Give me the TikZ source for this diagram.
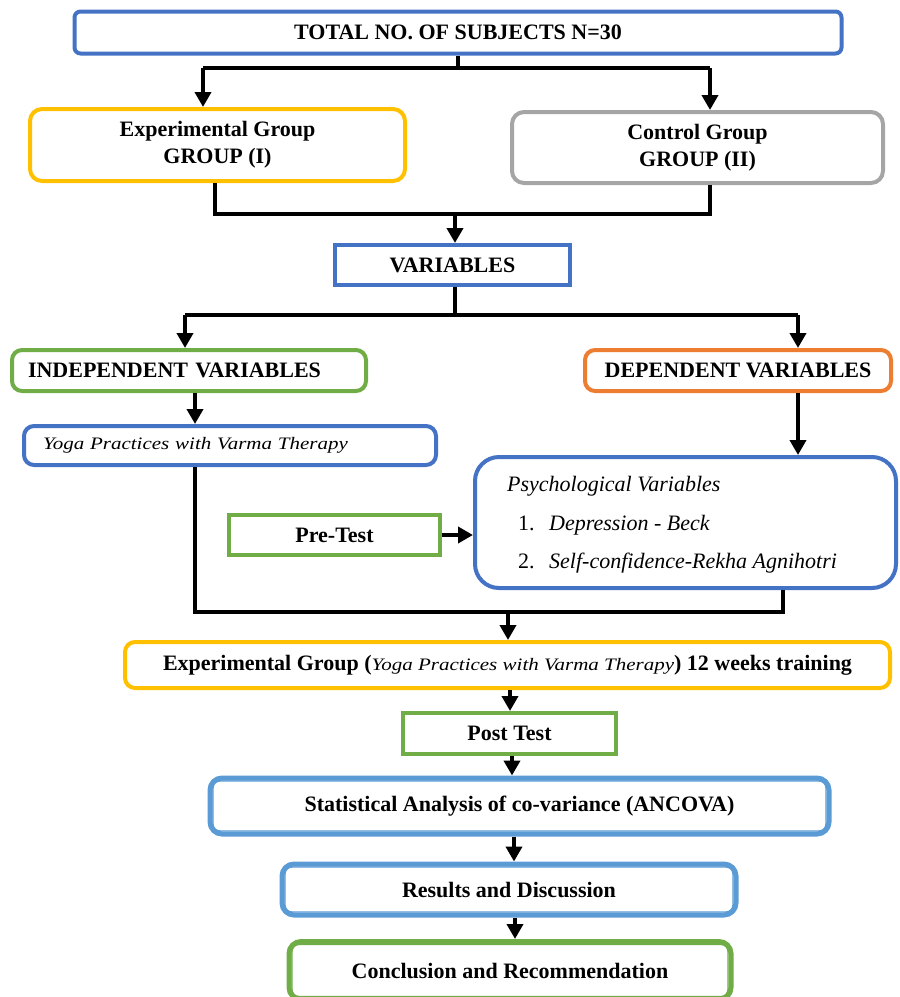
\documentclass[tikz,border=0pt]{standalone}
\usepackage{fontspec}
\setmainfont{Liberation Serif}
\newfontfamily\wideit{Liberation Serif}[FakeStretch=1.2]
\usetikzlibrary{arrows.meta}
\definecolor{cblue}{HTML}{4472C4}
\definecolor{cyellow}{HTML}{FFC000}
\definecolor{cgray}{HTML}{A5A5A5}
\definecolor{cgreen}{HTML}{70AD47}
\definecolor{corange}{HTML}{ED7D31}
\definecolor{clblue}{HTML}{5B9BD5}
\begin{document}
\begin{tikzpicture}[x=1pt,y=-1pt,
  bx/.style={draw,line width=4pt,fill=white,inner sep=0pt,align=center,
    font=\fontsize{22}{27}\selectfont\bfseries},
  rbx/.style={bx,rounded corners=10pt},
  dbx/.style={bx,line width=5pt,rounded corners=12pt},
  inbox/.style={line width=1.3pt,rounded corners=7pt},
  ln/.style={line width=4.5pt,black},
  arr/.style={line width=4.5pt,black,-{Triangle[length=15pt,width=16pt]}},
  ptxt/.style={anchor=base west,inner sep=0pt,font=\fontsize{22}{26}\selectfont\itshape},
  pnum/.style={anchor=base west,inner sep=0pt,font=\fontsize{22}{26}\selectfont}
]
\useasboundingbox (0,0) rectangle (900,997);

% boxes
\node[rbx,draw=cblue,rounded corners=6pt,minimum width=767pt,minimum height=42pt] (total) at (458,32.5) {TOTAL NO. OF SUBJECTS N=30};
\node[rbx,draw=cyellow,rounded corners=12pt,minimum width=375pt,minimum height=72pt] (exp) at (217.5,145) {Experimental Group\\GROUP (I)};
\node[rbx,draw=cgray,rounded corners=12pt,minimum width=371pt,minimum height=71pt] (ctrl) at (697.5,147.5) {Control Group\\GROUP (II)};
\node[bx,draw=cblue,minimum width=235pt,minimum height=40pt] (var) at (452.5,265) {VARIABLES};
\node[rbx,draw=cgreen,text width=322pt,inner xsep=16pt,align=left,minimum height=41pt] (indep) at (189,370.5) {INDEPENDENT VARIABLES};
\node[rbx,draw=corange,minimum width=306pt,minimum height=41pt] (dep) at (738,370.5) {DEPENDENT VARIABLES};
\node[rbx,draw=cblue,text width=374pt,inner xsep=19pt,align=left,minimum height=39pt,
  font=\fontsize{17.5}{20}\selectfont\wideit\itshape] (yoga) at (230,445.5) {Yoga Practices with Varma Therapy};
\node[rbx,draw=cblue,rounded corners=24pt,minimum width=421pt,minimum height=131pt] (psych) at (685.5,522.5) {};
\node[ptxt] (p0) at (507,491) {Psychological Variables};
\node[pnum] (n1) at (518,530) {1.};
\node[ptxt] (p1) at (549,530) {Depression - Beck};
\node[pnum] (n2) at (518,568) {2.};
\node[ptxt] (p2) at (549,568) {Self-confidence-Rekha Agnihotri};
\node[bx,draw=cgreen,minimum width=211pt,minimum height=40pt] (pre) at (334.5,535) {Pre-Test};
\node[rbx,draw=cyellow,minimum width=765pt,minimum height=46pt] (wk) at (507.5,665) {Experimental Group ({\mdseries\fontsize{17.5}{20}\selectfont\wideit\itshape Yoga Practices with Varma Therapy}) 12 weeks training};
\node[bx,draw=cgreen,minimum width=213pt,minimum height=41pt] (post) at (509.5,733.5) {Post Test};
\node[dbx,draw=clblue,minimum width=619pt,minimum height=56pt] (stat) at (519.5,806) {Statistical Analysis of co-variance (ANCOVA)};
\node[dbx,draw=clblue,minimum width=454pt,minimum height=51pt] (res) at (509,889.5) {Results and Discussion};
\node[dbx,draw=cgreen,minimum width=442pt,minimum height=58pt] (conc) at (510,970.5) {Conclusion and Recommendation};

% inner lines of double boxes
\foreach \n/\c in {stat/clblue,res/clblue,conc/cgreen}{
  \draw[inbox,draw=\c] ([xshift=5.5pt,yshift=-5.5pt]\n.north west) rectangle ([xshift=-5.5pt,yshift=5.5pt]\n.south east);
}

% connectors
\coordinate (a1) at (203,68);
\coordinate (a2) at (710,68);
\draw[ln] (total.south) -- (total.south |- a1);
\draw[ln] (a1) -- (a2);
\draw[arr] (a1) -- (a1 |- exp.north);
\draw[arr] (a2) -- (a2 |- ctrl.north);

\coordinate (b1) at (215,214);
\coordinate (b2) at (710,214);
\coordinate (b3) at (455,214);
\draw[ln] (b1 |- exp.south) -- (b1) -- (b2) -- (b2 |- ctrl.south);
\draw[arr] (b3) -- (b3 |- var.north);

\coordinate (c1) at (185,315);
\coordinate (c2) at (798,315);
\coordinate (c3) at (455,315);
\draw[ln] (c3 |- var.south) -- (c3);
\draw[ln] (c1) -- (c2);
\draw[arr] (c1) -- (c1 |- indep.north);
\draw[arr] (c2) -- (c2 |- dep.north);

\coordinate (d1) at (195,0);
\draw[arr] (d1 |- indep.south) -- (d1 |- yoga.north);
\coordinate (d2) at (798,0);
\draw[arr] (d2 |- dep.south) -- (d2 |- psych.north);

\draw[arr] (pre.east) -- (pre.east -| psych.west);

\coordinate (e1) at (195,612);
\coordinate (e2) at (783,612);
\coordinate (e3) at (508,612);
\draw[ln] (e1 |- yoga.south) -- (e1) -- (e2) -- (e2 |- psych.south);
\draw[arr] (e3) -- (e3 |- wk.north);

\coordinate (f1) at (510,0);
\draw[arr] (f1 |- wk.south) -- (f1 |- post.north);
\coordinate (f2) at (512,0);
\draw[arr] (f2 |- post.south) -- (f2 |- stat.north);
\coordinate (f3) at (514,0);
\draw[arr] (f3 |- stat.south) -- (f3 |- res.north);
\coordinate (f4) at (515,0);
\draw[arr] (f4 |- res.south) -- (f4 |- conc.north);
\end{tikzpicture}
\end{document}
